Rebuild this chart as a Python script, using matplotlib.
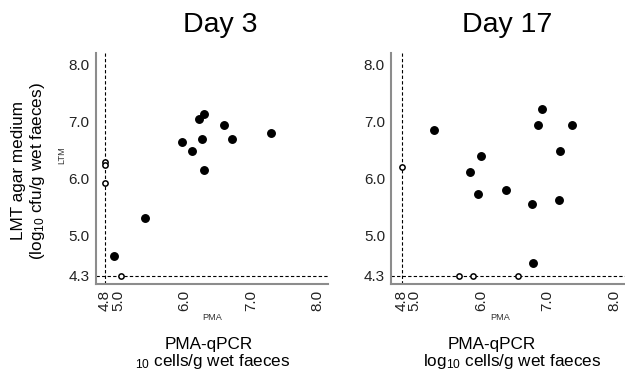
import matplotlib
matplotlib.use('Agg')
import matplotlib.pyplot as plt

plt.rcParams['font.family'] = ['Liberation Sans', 'DejaVu Sans']
plt.rcParams['mathtext.fontset'] = 'custom'
plt.rcParams['mathtext.rm'] = 'Liberation Sans'
plt.rcParams['mathtext.it'] = 'Liberation Sans:italic'

titles = ['Day 3', 'Day 17']
xticks = [4.8, 5.0, 6.0, 7.0, 8.0]
yticks = [4.3, 5.0, 6.0, 7.0, 8.0]
lod_x = 4.8
lod_y = 4.3

# day 3
d3_fill_x = [4.94, 5.41, 5.96, 6.11, 6.22, 6.30, 6.27, 6.30, 6.59, 6.71, 7.30]
d3_fill_y = [4.64, 5.31, 6.64, 6.48, 7.05, 7.13, 6.69, 6.15, 6.94, 6.70, 6.80]
d3_open_x = [4.80, 4.80, 4.80, 5.05]
d3_open_y = [6.30, 6.24, 5.92, 4.30]

# day 17
d17_fill_x = [5.29, 5.83, 6.00, 5.95, 6.38, 6.77, 6.78, 6.85, 6.92, 7.17, 7.18, 7.36]
d17_fill_y = [6.85, 6.11, 6.39, 5.74, 5.80, 5.56, 4.52, 6.94, 7.22, 5.63, 6.49, 6.94]
d17_open_x = [4.80, 5.67, 5.88, 6.55]
d17_open_y = [6.21, 4.30, 4.30, 4.30]

fig = plt.figure(figsize=(6.25, 3.75), dpi=100)
ax1 = fig.add_axes([0.153, 0.243, 0.372, 0.616])
ax2 = fig.add_axes([0.626, 0.243, 0.374, 0.616])

panels = [
    (ax1, d3_fill_x, d3_fill_y, d3_open_x, d3_open_y, (4.665, 8.16)),
    (ax2, d17_fill_x, d17_fill_y, d17_open_x, d17_open_y, (4.645, 8.164)),
]

for ax, fx, fy, ox, oy, xl in panels:
    ax.axvline(lod_x, color='black', lw=0.8, ls=(0, (3, 2)), zorder=1)
    ax.axhline(lod_y, color='black', lw=0.8, ls=(0, (3, 2)), zorder=1)
    ax.plot(fx, fy, 'o', color='black', ms=5.4, zorder=3)
    ax.plot(ox, oy, 'o', mfc='white', mec='black', mew=1.1, ms=3.8, zorder=3)
    ax.set_xlim(xl)
    ax.set_ylim(4.16, 8.20)
    ax.set_xticks(xticks)
    ax.set_xticklabels(['%.1f' % v for v in xticks], rotation=90)
    ax.set_yticks(yticks)
    ax.set_yticklabels(['%.1f' % v for v in yticks])
    ax.tick_params(length=0, labelsize=11, colors='#222222', pad=4.5)
    for s in ['top', 'right']:
        ax.spines[s].set_visible(False)
    for s in ['left', 'bottom']:
        ax.spines[s].set_color('#8c8c8c')
        ax.spines[s].set_linewidth(1.5)

fig.text(220/625, 1 - 25/375, titles[0], fontsize=20.5, ha='center', va='center')
fig.text(507/625, 1 - 25/375, titles[1], fontsize=20.5, ha='center', va='center')

fig.text(29/625, 1 - 171/375, 'LMT agar medium\n(log$_{\\mathrm{10}}$ cfu/g wet faeces)',
         rotation=90, fontsize=12.3, ha='center', va='center', linespacing=1.1)
fig.text(62/625, 1 - 155/375, 'LTM', rotation=90, fontsize=6.6, ha='center', va='center',
         color='#333333')

fig.text(212/625, 1 - 318/375, 'PMA', fontsize=6.6, ha='center', va='center', color='#333333')
fig.text(500/625, 1 - 318/375, 'PMA', fontsize=6.6, ha='center', va='center', color='#333333')

fig.text(209/625, 1 - 345/375, 'PMA-qPCR', fontsize=12.3, ha='center', va='center')
fig.text(492/625, 1 - 345/375, 'PMA-qPCR', fontsize=12.3, ha='center', va='center')
fig.text(135/625, 1 - 366/375, '$_{\\mathrm{10}}$ cells/g wet faeces', fontsize=12.3,
         ha='left', va='baseline')
fig.text(423/625, 1 - 366/375, 'log$_{\\mathrm{10}}$ cells/g wet faeces', fontsize=12.3,
         ha='left', va='baseline')

fig.savefig('out.png', dpi=100)
